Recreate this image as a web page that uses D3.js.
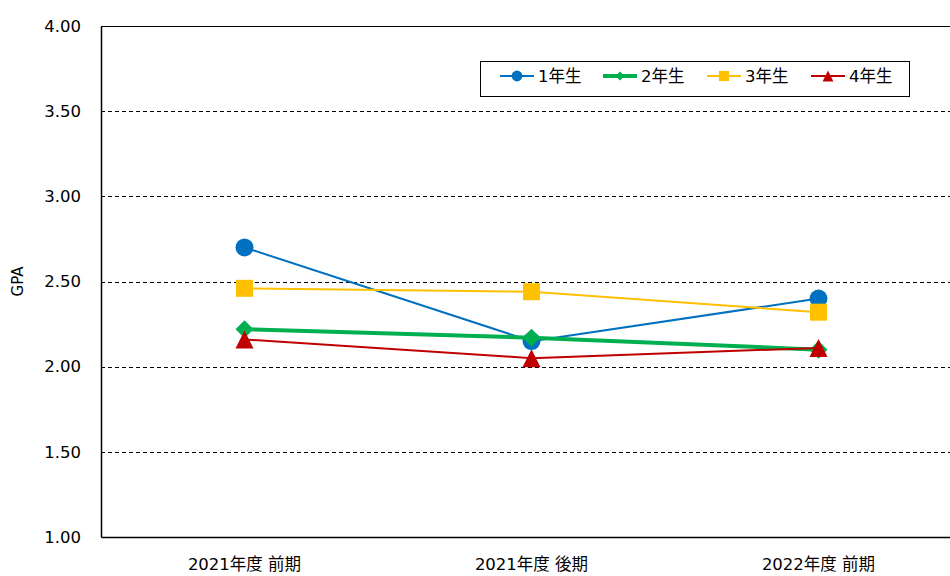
<!DOCTYPE html>
<html>
<head>
<meta charset="utf-8">
<script src="https://cdn.jsdelivr.net/npm/d3@7"></script>
<style>
body{margin:0;background:#fff;}
svg{display:block;}
</style>
</head>
<body>
<svg id="chart" width="950" height="576"></svg>
<script>
var terms = ["2021年度 前期", "2021年度 後期", "2022年度 前期"];
var seriesNames = ["1年生", "2年生", "3年生", "4年生"];
var grade1 = [2.70, 2.15, 2.40];
var grade2 = [2.22, 2.17, 2.10];
var grade3 = [2.46, 2.44, 2.32];
var grade4 = [2.16, 2.05, 2.11];
var yTicks = [1.00, 1.50, 2.00, 2.50, 3.00, 3.50, 4.00];

var colors = ["#0070C0", "#00B050", "#FFC000", "#C00000"];
var widths = [2, 4, 2, 2];
var shapes = ["circle", "diamond", "square", "triangle"];
var allSeries = [grade1, grade2, grade3, grade4];

var svg = d3.select("#chart");
var plotLeft = 101, plotTop = 26, plotBottom = 537, plotRight = 962;

var x = d3.scaleBand().domain(terms).range([plotLeft, plotRight]);
var y = d3.scaleLinear().domain([1, 4]).range([plotBottom, plotTop]);

// dashed gridlines
svg.append("g").selectAll("line")
    .data(yTicks.filter(function(d){ return d > 1 && d < 4; }))
    .enter().append("line")
    .attr("x1", plotLeft).attr("x2", plotRight)
    .attr("y1", function(d){ return Math.round(y(d)) + 0.5; }).attr("y2", function(d){ return Math.round(y(d)) + 0.5; })
    .attr("stroke", "#000").attr("stroke-width", 1).attr("stroke-dasharray", "4,3");

// top frame line
svg.append("line").attr("x1", plotLeft).attr("x2", plotRight).attr("y1", y(4) + 0.5).attr("y2", y(4) + 0.5)
    .attr("stroke", "#000").attr("stroke-width", 1);

var yAxis = svg.append("g").attr("transform", "translate(" + plotLeft + ",0)")
    .call(d3.axisLeft(y).tickValues(yTicks).tickSize(0).tickPadding(20).tickFormat(d3.format(".2f")));
yAxis.select(".domain").attr("stroke", "#000").attr("stroke-width", 1.5);
yAxis.selectAll("text").attr("font-family", "DejaVu Sans, Verdana, sans-serif")
    .attr("font-size", "16.5px").attr("fill", "#000");

var xAxis = svg.append("g").attr("transform", "translate(0," + plotBottom + ")")
    .call(d3.axisBottom(x).tickSize(0).tickPadding(21));
xAxis.select(".domain").attr("stroke", "#000").attr("stroke-width", 1.5);
xAxis.selectAll("text").attr("font-family", "DejaVu Sans, Noto Sans CJK JP, sans-serif")
    .attr("font-size", "16.5px").attr("fill", "#000");

svg.append("text")
    .attr("transform", "translate(23," + ((plotTop + plotBottom) / 2) + ") rotate(-90)")
    .attr("text-anchor", "middle")
    .attr("font-family", "DejaVu Sans, Verdana, sans-serif").attr("font-size", "15px")
    .text("GPA");

function drawMarker(g, shape, cx, cy, color, scale){
    var s = scale || 1;
    if(shape == "circle"){
        g.append("circle").attr("cx", cx).attr("cy", cy).attr("r", 9 * s).attr("fill", color);
    } else if(shape == "square"){
        g.append("rect").attr("x", cx - 8.5 * s).attr("y", cy - 8.5 * s)
            .attr("width", 17 * s).attr("height", 17 * s).attr("fill", color);
    } else if(shape == "diamond"){
        var r = 9 * s;
        g.append("path").attr("d", "M" + cx + "," + (cy - r) + "L" + (cx + r) + "," + cy + "L" + cx + "," + (cy + r) + "L" + (cx - r) + "," + cy + "Z")
            .attr("fill", color);
    } else {
        var h = 9 * s;
        g.append("path").attr("d", "M" + cx + "," + (cy - h) + "L" + (cx + h) + "," + (cy + h) + "L" + (cx - h) + "," + (cy + h) + "Z")
            .attr("fill", color);
    }
}

var line = d3.line()
    .x(function(d, i){ return x(terms[i]) + x.bandwidth() / 2; })
    .y(function(d){ return y(d); });

allSeries.forEach(function(vals, k){
    var g = svg.append("g");
    g.append("path").datum(vals).attr("d", line)
        .attr("fill", "none").attr("stroke", colors[k]).attr("stroke-width", widths[k]);
    vals.forEach(function(v, i){
        drawMarker(g, shapes[k], x(terms[i]) + x.bandwidth() / 2, y(v), colors[k], 1);
    });
});

// legend
var lg = svg.append("g");
lg.append("rect").attr("x", 480.5).attr("y", 61.5).attr("width", 429).attr("height", 35)
    .attr("fill", "#fff").attr("stroke", "#000").attr("stroke-width", 1);
var legX = [500, 603, 707, 811];
var legScale = [0.6, 0.5, 0.6, 0.6];
seriesNames.forEach(function(name, k){
    var item = lg.append("g");
    item.append("line").attr("x1", legX[k]).attr("x2", legX[k] + 34).attr("y1", 76).attr("y2", 76)
        .attr("stroke", colors[k]).attr("stroke-width", widths[k]);
    drawMarker(item, shapes[k], legX[k] + 17, 76, colors[k], legScale[k]);
    item.append("text").attr("x", legX[k] + 38).attr("y", 82)
        .attr("font-family", "DejaVu Sans, Noto Sans CJK JP, sans-serif").attr("font-size", "16.5px")
        .text(name);
});
</script>
</body>
</html>
